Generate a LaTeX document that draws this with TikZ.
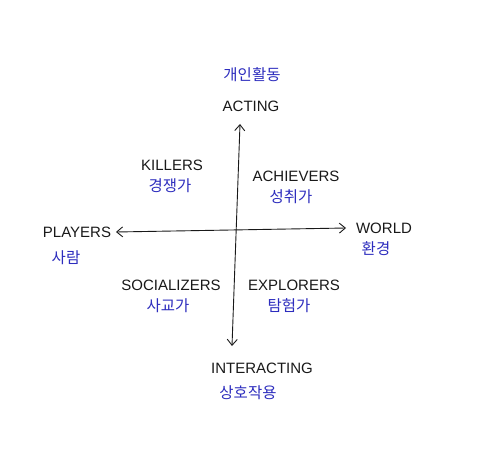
\documentclass[tikz,border=0pt]{standalone}
\usepackage{fontspec}
\setmainfont{Liberation Sans}
\newfontfamily\kofont{Noto Sans CJK KR}
\usetikzlibrary{arrows.meta}
\definecolor{inkblue}{RGB}{45,45,190}
\definecolor{inkblack}{RGB}{25,25,25}
\tikzset{
  en/.style={text=inkblack, font=\fontsize{15}{17}\selectfont, inner sep=0pt},
  ko/.style={text=inkblue, font=\kofont\fontsize{15.5}{17}\selectfont, inner sep=0pt},
  axis/.style={draw=inkblack, line width=0.9pt, {Straight Barb[length=6pt,width=10pt]}-{Straight Barb[length=6pt,width=10pt]}}
}
\begin{document}
\begin{tikzpicture}[x=1pt,y=-1pt]
\useasboundingbox[fill=white] (0,0) rectangle (500,465);
\coordinate (top) at (240,124);
\coordinate (bottom) at (232,346);
\coordinate (left) at (116,232);
\coordinate (right) at (346,228);
\draw[axis] (top) -- (bottom);
\draw[axis] (left) -- (right);
\node[ko] (actko) at (252,75) {개인활동};
\node[en] (act) at (251,106) {ACTING};
\node[en] (kil) at (172,165) {KILLERS};
\node[ko] (kilko) at (170,186) {경쟁가};
\node[en] (ach) at (296,176) {ACHIEVERS};
\node[ko] (achko) at (291,197) {성취가};
\node[en] (pla) at (77,232) {PLAYERS};
\node[ko] (plako) at (66,258) {사람};
\node[en] (wor) at (384,228) {WORLD};
\node[ko] (worko) at (376,249) {환경};
\node[en] (soc) at (171,285) {SOCIALIZERS};
\node[ko] (socko) at (168,306) {사교가};
\node[en] (exp) at (294,285) {EXPLORERS};
\node[ko] (expko) at (289,306) {탐험가};
\node[en] (int) at (262,368) {INTERACTING};
\node[ko] (intko) at (248,393) {상호작용};
\end{tikzpicture}
\end{document}
